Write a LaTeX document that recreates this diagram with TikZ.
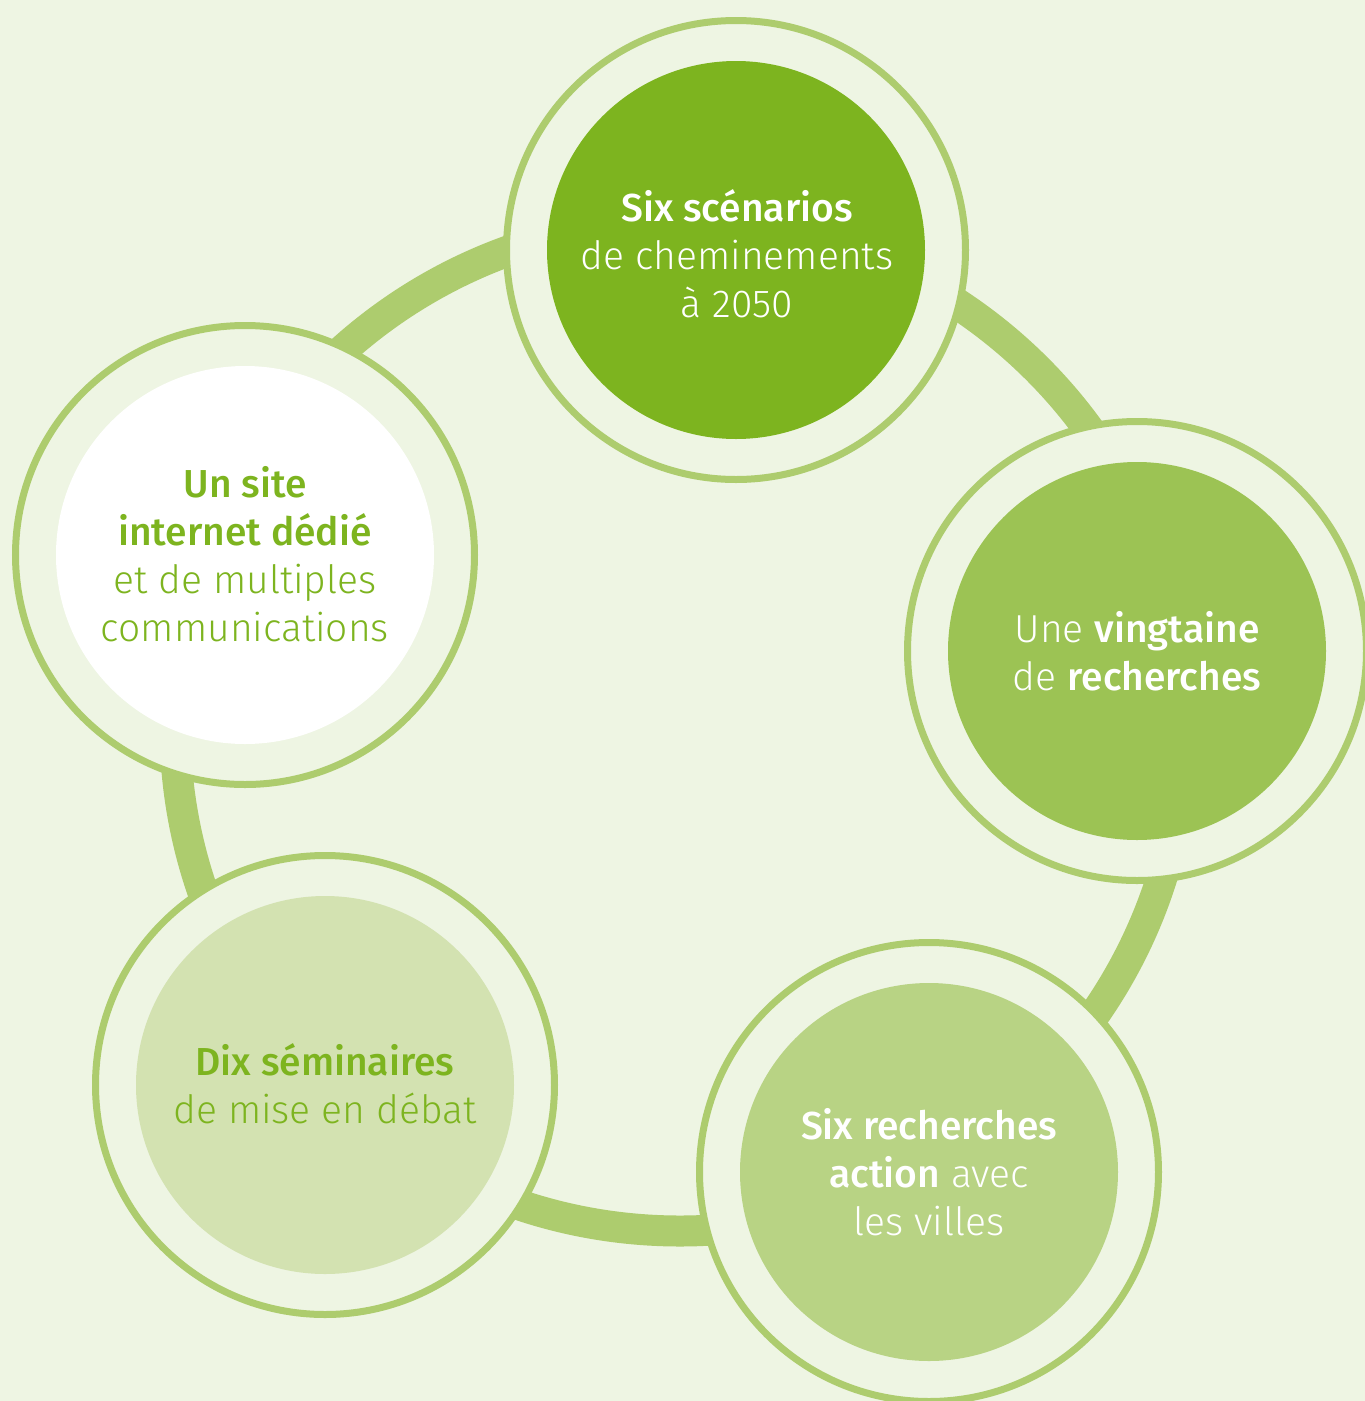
\documentclass[tikz,border=0pt]{standalone}
\usepackage{fontspec}
\setmainfont{Fira Sans}[UprightFont=* Light, BoldFont=* Medium]
\definecolor{bg}{HTML}{EEF5E3}
\definecolor{ringc}{HTML}{ADCC6E}
\definecolor{dA}{HTML}{7DB41F}
\definecolor{dB}{HTML}{9CC354}
\definecolor{dC}{HTML}{B8D384}
\definecolor{dD}{HTML}{D3E2B1}
\definecolor{txtg}{HTML}{7DB41F}
\tikzset{
  outerc/.style={circle, draw=ringc, line width=7pt, fill=bg, minimum size=459pt, inner sep=0pt},
  disc/.style={circle, minimum size=378pt, inner sep=0pt},
  lbl/.style={align=center, font=\fontsize{39}{48}\selectfont, inner sep=0pt},
}
\begin{document}
\begin{tikzpicture}[x=1pt, y=-1pt]
\fill[bg] (0,0) rectangle (1365,1401);
\useasboundingbox (0,0) rectangle (1365,1401);
\draw[ringc, line width=31pt] (680,726) circle (505pt);
% top
\node[outerc] (o1) at (736,250) {};
\node[disc, fill=dA] (d1) at (o1.center) {};
\node[lbl, text=white] (t1) at (737,254) {\textbf{Six scénarios}\\de cheminements\\à 2050};
% right
\node[outerc] (o2) at (1137,651) {};
\node[disc, fill=dB] (d2) at (o2.center) {};
\node[lbl, text=white] (t2) at (1137,651) {Une \textbf{vingtaine}\\de \textbf{recherches}};
% bottom right
\node[outerc] (o3) at (929,1172) {};
\node[disc, fill=dC] (d3) at (o3.center) {};
\node[lbl, text=white] (t3) at (929,1172) {\textbf{Six recherches}\\\textbf{action} avec\\les villes};
% bottom left
\node[outerc] (o4) at (325,1085) {};
\node[disc, fill=dD] (d4) at (o4.center) {};
\node[lbl, text=txtg] (t4) at (325,1084) {\textbf{Dix séminaires}\\de mise en débat};
% left
\node[outerc] (o5) at (245,555) {};
\node[disc, fill=white] (d5) at (o5.center) {};
\node[lbl, text=txtg] (t5) at (245,554) {\textbf{Un site}\\\textbf{internet dédié}\\et de multiples\\communications};
\end{tikzpicture}
\end{document}
